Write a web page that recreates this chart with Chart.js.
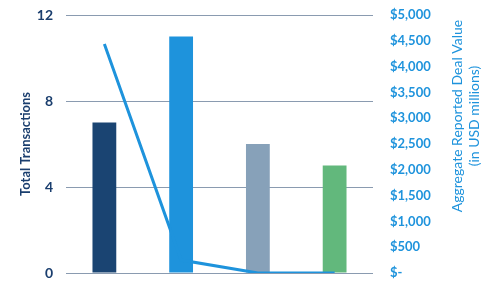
<!DOCTYPE html>
<html><head><meta charset="utf-8">
<script src="https://cdn.jsdelivr.net/npm/chart.js@4"></script>
<style>html,body{margin:0;padding:0;background:#fff}#wrap{width:493px;height:288px}</style>
</head><body><div id="wrap"><canvas id="c" width="493" height="288"></canvas></div>
<script>
const categories = ['Group 1', 'Group 2', 'Group 3', 'Group 4'];
const transactions = [7, 11, 6, 5];
const dealValue = [4440, 250, 0, 0];
const leftTicks = [0, 4, 8, 12];
const rightTicks = [0, 500, 1000, 1500, 2000, 2500, 3000, 3500, 4000, 4500, 5000];
const barColors = ['#1a4472', '#1e93dc', '#87a1b9', '#62b87c'];

const NAVY = '#1a3e6e', BLUE = '#1e93dc', GRID = '#8a9bb0';
const FONT = 'Lato, "Open Sans", sans-serif';

const rightTitle = {
  id: 'rightTitle',
  afterDraw(chart) {
    const ctx = chart.ctx;
    ctx.save();
    ctx.translate(466, 116);
    ctx.rotate(-Math.PI / 2);
    ctx.fillStyle = BLUE;
    ctx.font = '14px ' + FONT;
    ctx.textAlign = 'center';
    ctx.textBaseline = 'middle';
    ctx.fillText('Aggregate Reported Deal Value', 0, -8.5);
    ctx.fillText('(in USD millions)', 0, 8.5);
    ctx.restore();
  }
};

new Chart(document.getElementById('c'), {
  data: {
    labels: categories,
    datasets: [
      { type: 'line', data: dealValue, yAxisID: 'y1', borderColor: BLUE, borderWidth: 3,
        pointRadius: 0, tension: 0, order: 0 },
      { type: 'bar', data: transactions, yAxisID: 'y', backgroundColor: barColors,
        barPercentage: 0.31, categoryPercentage: 1, order: 1 }
    ]
  },
  options: {
    responsive: false, animation: false,
    layout: { padding: { top: 15, left: 0, right: 0, bottom: 0 } },
    plugins: { legend: { display: false }, tooltip: { enabled: false } },
    scales: {
      x: { grid: { display: false }, border: { display: false }, ticks: { display: false },
           afterFit(s) { s.height = 15; s.paddingLeft = 0; s.paddingRight = 0; } },
      y: { position: 'left', min: 0, max: 12,
           afterBuildTicks(s) { s.ticks = leftTicks.map(v => ({ value: v })); },
           grid: { color: GRID, lineWidth: 1, drawTicks: false }, border: { display: false },
           ticks: { color: NAVY, font: { family: FONT, size: 14, weight: 'bold' }, padding: 13 },
           title: { display: true, text: 'Total Transactions', color: NAVY,
                    font: { family: FONT, size: 13, weight: 'bold' }, padding: { top: 18, bottom: 0 } },
           afterFit(s) { s.width = 66; s.paddingTop = 0; s.paddingBottom = 0; } },
      y1: { position: 'right', min: 0, max: 5000,
            afterBuildTicks(s) { s.ticks = rightTicks.map(v => ({ value: v })); },
            grid: { display: false, drawTicks: false }, border: { display: false },
            ticks: { color: BLUE, font: { family: FONT, size: 13, weight: 'bold' }, padding: 17,
                     callback: v => v === 0 ? '$-' : '$' + v.toLocaleString('en-US') },
            afterFit(s) { s.width = 120; s.paddingTop = 0; s.paddingBottom = 0; } }
    }
  },
  plugins: [rightTitle]
});
</script></body></html>
